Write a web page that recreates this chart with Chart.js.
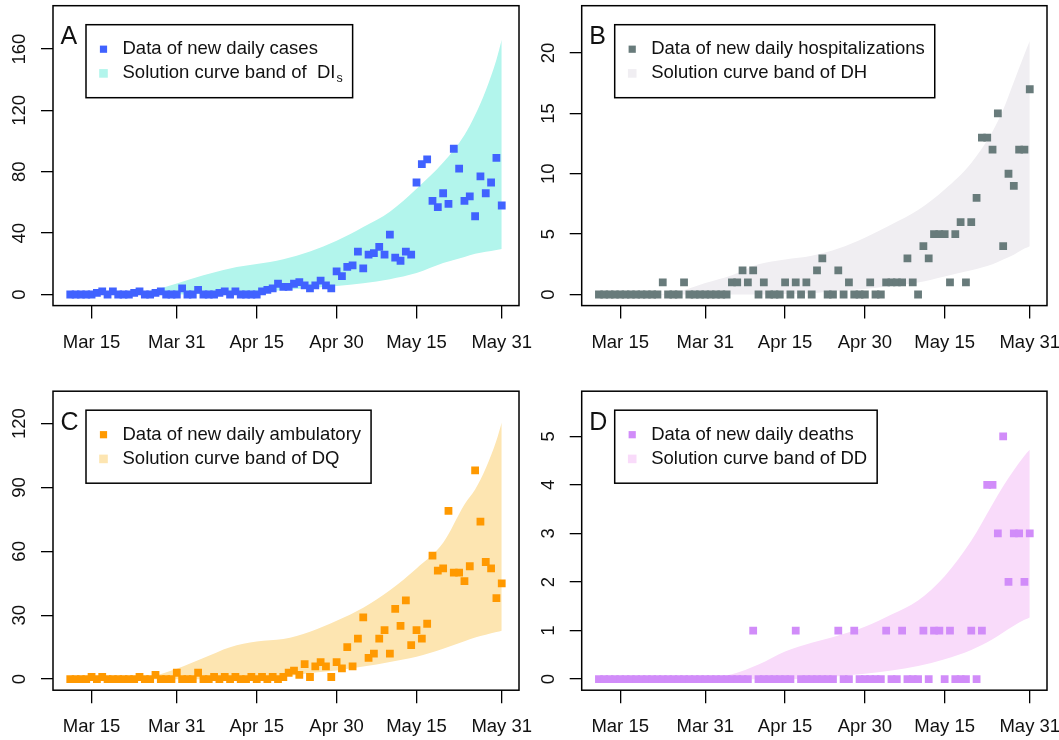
<!DOCTYPE html>
<html>
<head>
<meta charset="utf-8">
<script src="https://cdn.jsdelivr.net/npm/chart.js@4.4.1/dist/chart.umd.min.js"></script>
<style>
  html, body { margin: 0; padding: 0; background: #fff; }
  body { width: 1059px; height: 740px; overflow: hidden; position: relative; }
  canvas { position: absolute; }
</style>
</head>
<body>
<canvas id="panelA"></canvas>
<canvas id="panelB"></canvas>
<canvas id="panelC"></canvas>
<canvas id="panelD"></canvas>
<script>
// x is the day number, day 0 = Mar 11, day 81 = May 31
const tickDays = [4, 20, 35, 50, 65, 81];
const tickLabels = ['Mar 15', 'Mar 31', 'Apr 15', 'Apr 30', 'May 15', 'May 31'];

// daily data, one value per day starting Mar 11
const casesData = [
  0, 0, 0, 0, 0, 1, 2, 0, 2, 0,
  0, 0, 1, 2, 0, 0, 1, 2, 0, 0,
  0, 4, 0, 0, 3, 0, 0, 0, 1, 2,
  0, 2, 0, 0, 0, 0, 2, 3, 4, 7,
  5, 5, 7, 8, 6, 4, 6, 9, 6, 4,
  15, 12, 18, 19, 28, 17, 26, 27, 31, 26,
  39, 24, 22, 28, 26, 73, 85, 88, 61, 57,
  66, 59, 95, 82, 61, 64, 51, 77, 66, 73,
  89, 58
];
const hospData = [
  0, 0, 0, 0, 0, 0, 0, 0, 0, 0,
  0, 0, 1, 0, 0, 0, 1, 0, 0, 0,
  0, 0, 0, 0, 0, 1, 1, 2, 1, 2,
  0, 1, 0, 0, 0, 1, 0, 1, 0, 1,
  0, 2, 3, 0, 0, 2, 0, 1, 0, 0,
  0, 1, 0, 0, 1, 1, 1, 1, 3, 1,
  0, 4, 3, 5, 5, 5, 1, 5, 6, 1,
  6, 8, 13, 13, 12, 15, 4, 10, 9, 12,
  12, 17
];
const ambData = [
  0, 0, 0, 0, 1, 0, 1, 0, 0, 0,
  0, 0, 0, 1, 0, 0, 2, 0, 0, 0,
  3, 0, 0, 0, 3, 0, 0, 1, 0, 1,
  0, 1, 0, 0, 1, 0, 1, 0, 1, 0,
  1, 3, 4, 2, 7, 1, 6, 8, 6, 1,
  8, 5, 15, 6, 19, 29, 10, 12, 19, 23,
  12, 33, 25, 37, 16, 23, 19, 26, 58, 51,
  52, 79, 50, 50, 46, 53, 98, 74, 55, 52,
  38, 45
];
const deathData = [
  0, 0, 0, 0, 0, 0, 0, 0, 0, 0,
  0, 0, 0, 0, 0, 0, 0, 0, 0, 0,
  0, 0, 0, 0, 0, 0, 0, 0, 0, 1,
  0, 0, 0, 0, 0, 0, 0, 1, 0, 0,
  0, 0, 0, 0, 0, 1, 0, 0, 1, 0,
  0, 0, 0, 0, 1, 0, 0, 1, 0, 0,
  0, 1, 0, 1, 1, 0, 1, 0, 0, 0,
  1, 0, 1, 4, 4, 3, 5, 2, 3, 3,
  2, 3
];

// solution curve bands, read at these days
const bandDays = [0, 10, 15, 20, 25, 30, 35, 40, 45, 50, 55, 60, 65, 70, 74, 76, 78, 80, 81];
const casesUpper = [0, 0.3, 2.5, 7.2, 12.5, 17, 19.8, 23, 28, 35, 44, 54, 69, 86, 104, 117, 133, 153, 166];
const casesLower = [0, 0, 0, 0, 0.3, 0.8, 1.5, 3, 4.3, 5.5, 7.3, 10, 14, 20.5, 24.5, 26.5, 27.8, 29, 29.6];
const hospUpper = [0, 0, 0.25, 0.95, 1.6, 2.5, 2.9, 3.2, 3.8, 4.7, 5.8, 7.0, 8.7, 10.9, 13.5, 15.3, 17.6, 19.9, 21];
const hospLower = [0, 0, 0, 0, 0, 0, 0.05, 0.1, 0.3, 0.45, 0.7, 1.0, 1.5, 2.0, 2.5, 2.9, 3.3, 3.8, 4.0];
const ambUpper = [0, 0.3, 1.2, 4.9, 9.9, 15, 17.7, 18.8, 22.3, 27.4, 33.5, 41.7, 52, 64, 82, 89, 99, 112, 120.5];
const ambLower = [0, 0, 0, 0, 0, 0.2, 0.5, 1.2, 2.9, 4.1, 5.9, 8.1, 10.5, 14.3, 17.8, 19.5, 20.8, 22.1, 22.7];
const deathUpper = [0, 0, 0, 0.02, 0.1, 0.3, 0.57, 0.75, 0.9, 1.08, 1.33, 1.62, 2.12, 2.85, 3.6, 3.97, 4.3, 4.6, 4.72];
const deathLower = [0, 0, 0, 0, 0, 0, 0, 0.02, 0.06, 0.11, 0.18, 0.27, 0.41, 0.6, 0.82, 0.96, 1.1, 1.22, 1.27];

// y axis ticks
const casesTicks = [0, 40, 80, 120, 160];
const hospTicks = [0, 5, 10, 15, 20];
const ambTicks = [0, 30, 60, 90, 120];
const deathTicks = [0, 1, 2, 3, 4, 5];

const FAMILY = '"Liberation Sans", Arial, Helvetica, sans-serif';
const FONT = '18.5px ' + FAMILY;
const SUBFONT = '12.5px ' + FAMILY;
const LETTERFONT = '25px ' + FAMILY;

const panels = [
  { id: 'panelA', letter: 'A', x: 0, y: 0, w: 559, h: 370, yw: 53, top: 5.7, xh: 64.4,
    yMin: -7.24, yMax: 188.24, yTicks: casesTicks, values: casesData, upper: casesUpper, lower: casesLower,
    color: '#4062ff', band: '#b2f5ec', labelGap: 28,
    labels: ['Data of new daily cases', 'Solution curve band of  DI'], sub: 's' },
  { id: 'panelB', letter: 'B', x: 530, y: 0, w: 557, h: 370, yw: 51.7, top: 5.7, xh: 64.4,
    yMin: -0.92, yMax: 23.92, yTicks: hospTicks, values: hospData, upper: hospUpper, lower: hospLower,
    color: '#687b7b', band: '#f0eef2', labelGap: 28,
    labels: ['Data of new daily hospitalizations', 'Solution curve band of DH'] },
  { id: 'panelC', letter: 'C', x: 0, y: 370, w: 559, h: 370, yw: 53, top: 21.2, xh: 49.8,
    yMin: -5.2, yMax: 135.2, yTicks: ambTicks, values: ambData, upper: ambUpper, lower: ambLower,
    color: '#ff9900', band: '#fde5b1', labelGap: 28,
    labels: ['Data of new daily ambulatory', 'Solution curve band of DQ'] },
  { id: 'panelD', letter: 'D', x: 530, y: 370, w: 557, h: 370, yw: 51.7, top: 21.2, xh: 49.8,
    yMin: -0.228, yMax: 5.928, yTicks: deathTicks, values: deathData, upper: deathUpper, lower: deathLower,
    color: '#d18cf9', band: '#f9dbfa', labelGap: 28,
    labels: ['Data of new daily deaths', 'Solution curve band of DD'] }
];

// box, rotated y labels, panel letter and legend
const panelDecor = {
  id: 'panelDecor',
  afterDraw(chart, args, p) {
    const ctx = chart.ctx;
    const a = chart.chartArea;
    const yScale = chart.scales.y;
    ctx.save();
    ctx.strokeStyle = '#000';
    ctx.lineWidth = 1.5;
    ctx.strokeRect(a.left, a.top, a.right - a.left, a.bottom - a.top);

    ctx.fillStyle = '#111';
    ctx.font = FONT;
    ctx.textAlign = 'center';
    ctx.textBaseline = 'alphabetic';
    yScale.ticks.forEach(t => {
      ctx.save();
      ctx.translate(a.left - p.labelGap, yScale.getPixelForValue(t.value));
      ctx.rotate(-Math.PI / 2);
      ctx.fillText(String(t.value), 0, 0);
      ctx.restore();
    });

    ctx.font = LETTERFONT;
    ctx.textAlign = 'left';
    ctx.fillText(p.letter, a.left + 7.5, a.top + 38.5);

    // legend
    ctx.font = FONT;
    const w1 = ctx.measureText(p.labels[0]).width;
    const w2main = ctx.measureText(p.labels[1]).width;
    let w2 = w2main;
    if (p.sub) {
      ctx.font = SUBFONT;
      w2 += ctx.measureText(p.sub).width + 1;
      ctx.font = FONT;
    }
    const bx = a.left + 33, by = a.top + 19;
    const bw = 36.5 + Math.max(w1, w2) + 10, bh = 73;
    ctx.fillStyle = '#fff';
    ctx.fillRect(bx, by, bw, bh);
    ctx.strokeRect(bx, by, bw, bh);
    const mx = bx + 17.5, r1 = by + 24.5, r2 = by + 48.7;
    ctx.fillStyle = p.color;
    ctx.fillRect(mx - 3.6, r1 - 3.6, 7.2, 7.2);
    ctx.fillStyle = p.band;
    ctx.fillRect(mx - 4.3, r2 - 4.3, 8.6, 8.6);
    ctx.fillStyle = '#111';
    ctx.textBaseline = 'middle';
    ctx.fillText(p.labels[0], bx + 36.5, r1);
    ctx.fillText(p.labels[1], bx + 36.5, r2);
    if (p.sub) {
      ctx.font = SUBFONT;
      ctx.fillText(p.sub, bx + 36.5 + w2main + 1, r2 + 5);
    }
    ctx.restore();
  }
};

function makeChart(p) {
  const canvas = document.getElementById(p.id);
  canvas.width = p.w;
  canvas.height = p.h;
  canvas.style.left = p.x + 'px';
  canvas.style.top = p.y + 'px';

  new Chart(canvas, {
    type: 'scatter',
    data: {
      datasets: [
        {
          data: p.values.map((v, i) => ({ x: i, y: v })),
          pointStyle: 'rect',
          pointRadius: 5.5,
          backgroundColor: p.color,
          borderWidth: 0,
          pointBorderWidth: 0
        },
        {
          type: 'line',
          data: bandDays.map((d, k) => ({ x: d, y: p.upper[k] })),
          fill: '+1',
          backgroundColor: p.band,
          borderColor: 'rgba(0,0,0,0)',
          borderWidth: 0,
          pointRadius: 0,
          cubicInterpolationMode: 'monotone'
        },
        {
          type: 'line',
          data: bandDays.map((d, k) => ({ x: d, y: p.lower[k] })),
          fill: false,
          borderColor: 'rgba(0,0,0,0)',
          borderWidth: 0,
          pointRadius: 0,
          cubicInterpolationMode: 'monotone'
        }
      ]
    },
    options: {
      responsive: false,
      animation: false,
      events: [],
      devicePixelRatio: 1,
      layout: { padding: { left: 0, top: p.top, right: 40, bottom: 0 } },
      plugins: {
        legend: { display: false },
        tooltip: { enabled: false },
        panelDecor: p
      },
      scales: {
        x: {
          type: 'linear',
          min: -3.24,
          max: 84.24,
          afterBuildTicks: s => { s.ticks = tickDays.map(v => ({ value: v })); },
          afterFit: s => { s.height = p.xh; },
          ticks: {
            callback: v => tickLabels[tickDays.indexOf(v)],
            padding: 13,
            autoSkip: false,
            maxRotation: 0,
            color: '#111',
            font: { family: FAMILY, size: 18.5 }
          },
          grid: { drawOnChartArea: false, tickLength: 13, color: '#000', lineWidth: 1.3 },
          border: { display: false }
        },
        y: {
          type: 'linear',
          min: p.yMin,
          max: p.yMax,
          afterBuildTicks: s => { s.ticks = p.yTicks.map(v => ({ value: v })); },
          afterFit: s => { s.width = p.yw; },
          ticks: { display: false },
          grid: { drawOnChartArea: false, tickLength: 12, color: '#000', lineWidth: 1.3 },
          border: { display: false }
        }
      }
    },
    plugins: [panelDecor]
  });
}

panels.forEach(makeChart);
</script>
</body>
</html>
